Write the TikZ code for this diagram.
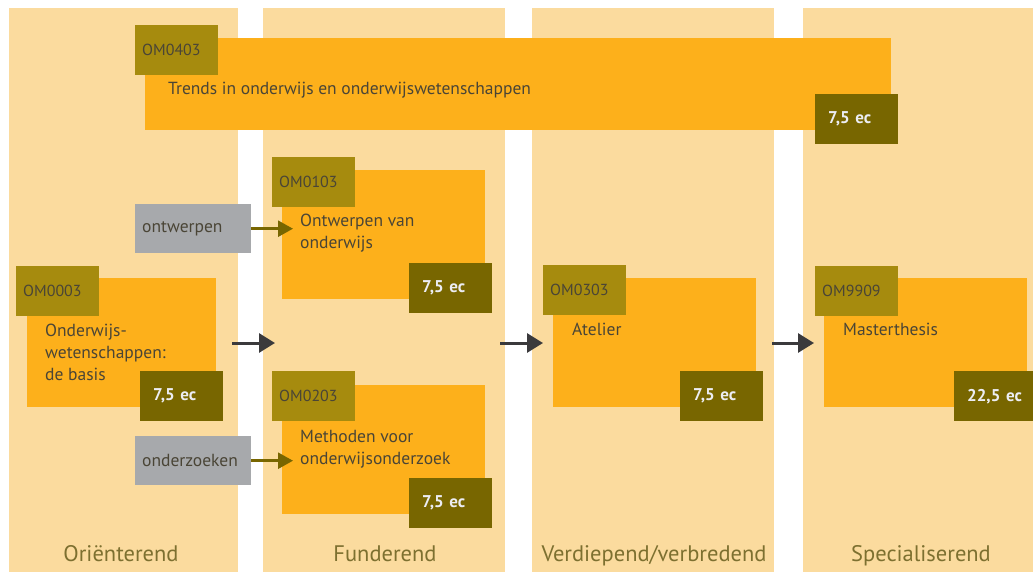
\documentclass[tikz,border=0pt]{standalone}
\usepackage{fontspec}
\setmainfont{PT Sans}
\usetikzlibrary{arrows.meta}
\definecolor{peach}{HTML}{FBDB9E}
\definecolor{amber}{HTML}{FDB01B}
\definecolor{codeolive}{HTML}{A68B0E}
\definecolor{ecolive}{HTML}{786600}
\definecolor{boxgray}{HTML}{A7A9AC}
\definecolor{txtdark}{HTML}{4A4536}
\definecolor{stagetxt}{HTML}{7D7030}
\definecolor{arrowgray}{HTML}{3B3A3C}
\definecolor{ectxt}{HTML}{ECEDF3}

\begin{document}
\begin{tikzpicture}[x=1pt,y=-1pt,
		stage/.style={fill=peach,anchor=north west,inner sep=0,minimum width=#1,minimum height=570pt},
		course/.style={fill=amber,anchor=north west,inner sep=0,minimum width=#1,minimum height=129pt},
		code/.style={fill=codeolive,anchor=north west,inner xsep=7pt,inner ysep=0,minimum width=83pt,minimum height=50pt,text width=69pt,align=left,text=txtdark,font=\fontsize{16}{18}\selectfont},
		ects/.style={fill=ecolive,anchor=north west,inner xsep=13pt,inner ysep=0,minimum width=83pt,minimum height=50pt,text width=57pt,align=left,text=ectxt,font=\bfseries\fontsize{17}{19}\selectfont},
		skill/.style={fill=boxgray,anchor=north west,inner xsep=7pt,inner ysep=0,minimum width=116pt,minimum height=49pt,text width=102pt,align=left,text=txtdark,font=\fontsize{17.5}{19}\selectfont},
		title/.style={anchor=base west,inner sep=0,align=left,text=txtdark,font=\fontsize{17.5}{22}\selectfont},
		phase/.style={anchor=base,inner sep=0,text=stagetxt,font=\fontsize{22.5}{25}\selectfont},
		flow/.style={draw=arrowgray,line width=3pt,-{Triangle[length=16pt,width=19pt]}},
		feed/.style={draw=ecolive,line width=2.5pt,-{Triangle[length=15pt,width=16pt]}}]
	\useasboundingbox (0,0) rectangle (1033,572);
	\node[stage=229pt] (s1) at (9,8) {};
	\node[stage=242pt] (s2) at (263,8) {};
	\node[stage=242pt] (s3) at (532,8) {};
	\node[stage=240pt] (s4) at (803,8) {};
	\node[phase] (p1) at (121,561) {Oriënterend};
	\node[phase] (p2) at (385,561) {Funderend};
	\node[phase] (p3) at (654,561) {Verdiepend/verbredend};
	\node[phase] (p4) at (921,561) {Specialiserend};

	\node[course=746pt,minimum height=92pt] (c0403) at (145,38) {};
	\node[course=189pt] (c0003) at (27,278) {};
	\node[course=203pt] (c0103) at (282,170) {};
	\node[course=203pt] (c0203) at (282,385) {};
	\node[course=203pt] (c0303) at (553,278) {};
	\node[course=203pt] (c9909) at (824,278) {};

	\node[code] (k0403) at (135,25) {OM0403};
	\node[code] (k0003) at (16,266) {OM0003};
	\node[code] (k0103) at (272,157) {OM0103};
	\node[code] (k0203) at (272,371) {OM0203};
	\node[code] (k0303) at (543,265) {OM0303};
	\node[code] (k9909) at (815,266) {OM9909};

	\node[title] (t0403) at (168,95) {Trends in onderwijs en onderwijswetenschappen};
	\node[title] (t0003) at (45,380) {Onderwijs-\\wetenschappen:\\de basis};
	\node[title] (t0103) at (300,248) {Ontwerpen van\\onderwijs};
	\node[title] (t0203) at (300,464) {Methoden voor\\onderwijsonderzoek};
	\node[title] (t0303) at (572,335) {Atelier};
	\node[title] (t9909) at (843,335) {Masterthesis};

	\node[ects] (e0403) at (815,94) {7,5 ec};
	\node[ects] (e0003) at (140,371) {7,5 ec};
	\node[ects] (e0103) at (409,263) {7,5 ec};
	\node[ects] (e0203) at (409,478) {7,5 ec};
	\node[ects] (e0303) at (680,371) {7,5 ec};
	\node[ects] (e9909) at (954,371) {22,5 ec};

	\node[skill] (g1) at (135,204) {ontwerpen};
	\node[skill] (g2) at (135,436) {onderzoeken};
	\draw[feed,shorten >=-11pt] (g1) -- (g1 -| c0103.west);
	\draw[feed,shorten >=-11pt] (g2) -- (g2 -| c0203.west);

	\coordinate (in2) at (282,343);
	\coordinate (out2) at (485,343);
	\draw[flow,shorten <=16pt,shorten >=7pt] (c0003.east |- in2) -- (in2);
	\draw[flow,shorten <=15pt,shorten >=10pt] (out2) -- (c0303.west |- out2);
	\draw[flow,shorten <=16pt,shorten >=10pt] (c0303.east |- out2) -- (c9909.west |- out2);
\end{tikzpicture}
\end{document}
